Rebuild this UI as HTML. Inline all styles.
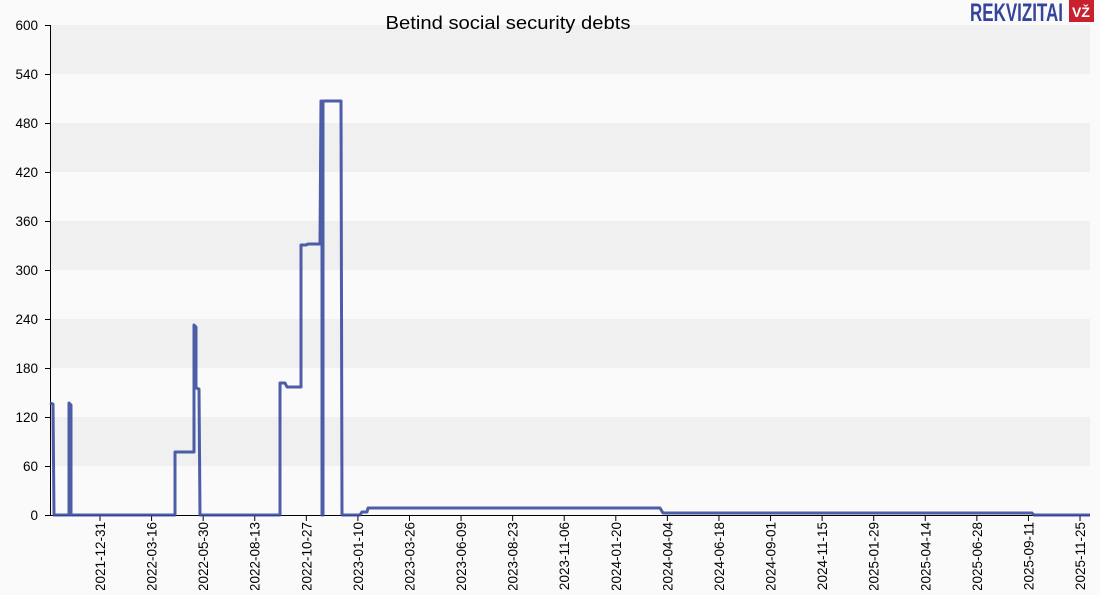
<!DOCTYPE html>
<html><head><style>
body{margin:0;background:#fafafa;width:1100px;height:590px;overflow:hidden;font-family:"Liberation Sans",sans-serif}
</style></head><body>
<svg width="1100" height="590" xmlns="http://www.w3.org/2000/svg" font-family="Liberation Sans, sans-serif">
<rect width="1100" height="590" fill="#fafafa"/>
<g fill="#f0f0f0">
<rect x="50" y="25" width="1040" height="49"/>
<rect x="50" y="123" width="1040" height="49"/>
<rect x="50" y="221" width="1040" height="49"/>
<rect x="50" y="319" width="1040" height="49"/>
<rect x="50" y="417" width="1040" height="49"/>
</g>
<text x="508" y="29" font-size="18" text-anchor="middle" fill="#000" textLength="245" lengthAdjust="spacingAndGlyphs">Betind social security debts</text>
<text x="970" y="21" font-size="25" font-weight="bold" fill="#34449a" textLength="93" lengthAdjust="spacingAndGlyphs">REKVIZITAI</text>
<rect x="1069" y="0" width="25" height="22" fill="#c8202f"/>
<text x="1081" y="17" font-size="14" font-weight="bold" text-anchor="middle" fill="#fff">VŽ</text>
<g stroke="#000" stroke-width="1">
<line x1="50.5" y1="25" x2="50.5" y2="515"/>
<line x1="50" y1="515.5" x2="1090" y2="515.5"/>
<g>
<line x1="45" y1="25.5" x2="50" y2="25.5"/><line x1="45" y1="74.5" x2="50" y2="74.5"/>
<line x1="45" y1="123.5" x2="50" y2="123.5"/><line x1="45" y1="172.5" x2="50" y2="172.5"/>
<line x1="45" y1="221.5" x2="50" y2="221.5"/><line x1="45" y1="270.5" x2="50" y2="270.5"/>
<line x1="45" y1="319.5" x2="50" y2="319.5"/><line x1="45" y1="368.5" x2="50" y2="368.5"/>
<line x1="45" y1="417.5" x2="50" y2="417.5"/><line x1="45" y1="466.5" x2="50" y2="466.5"/>
<line x1="45" y1="515.5" x2="50" y2="515.5"/>
</g>
</g>
<g font-size="13.5" text-anchor="end" fill="#000">
<text x="38" y="30">600</text><text x="38" y="79">540</text><text x="38" y="128">480</text>
<text x="38" y="177">420</text><text x="38" y="226">360</text><text x="38" y="275">300</text>
<text x="38" y="324">240</text><text x="38" y="373">180</text><text x="38" y="422">120</text>
<text x="38" y="471">60</text><text x="38" y="520">0</text>
</g>
<g id="xt" font-size="13.5" text-anchor="end" fill="#000" stroke="none"></g>
<polyline fill="none" stroke="#3a4b9f" stroke-width="3" stroke-opacity="0.9" stroke-linejoin="round" points="
50,403 53,404 54,515 69,515 69,403 71,405 71,515 175,515 175,452 194,452 194,325 196,327 196,388 199,389 200,515 280,515 280,383 285,383 287,387 301,387 301,245 306,245 308,244 320,244 321,101 322,103 322,515 323,515 323,101 341,101 342,515 360,515 362,512 367,512 368,508 660,508 663,513 1032,513 1034,515 1090,515"/>
</svg>
<script>
var labels=["2021-12-31","2022-03-16","2022-05-30","2022-08-13","2022-10-27","2023-01-10","2023-03-26","2023-06-09","2023-08-23","2023-11-06","2024-01-20","2024-04-04","2024-06-18","2024-09-01","2024-11-15","2025-01-29","2025-04-14","2025-06-28","2025-09-11","2025-11-25"];
var g=document.getElementById('xt'),ns="http://www.w3.org/2000/svg";
labels.forEach(function(l,i){var x=100+i*51.58;
var ln=document.createElementNS(ns,'line');ln.setAttribute('x1',x);ln.setAttribute('x2',x);ln.setAttribute('y1',515);ln.setAttribute('y2',521);ln.setAttribute('stroke','#000');g.appendChild(ln);
var t=document.createElementNS(ns,'text');t.setAttribute('transform','translate('+(x+5)+',522) rotate(-90)');t.textContent=l;g.appendChild(t);});
</script>
</body></html>
